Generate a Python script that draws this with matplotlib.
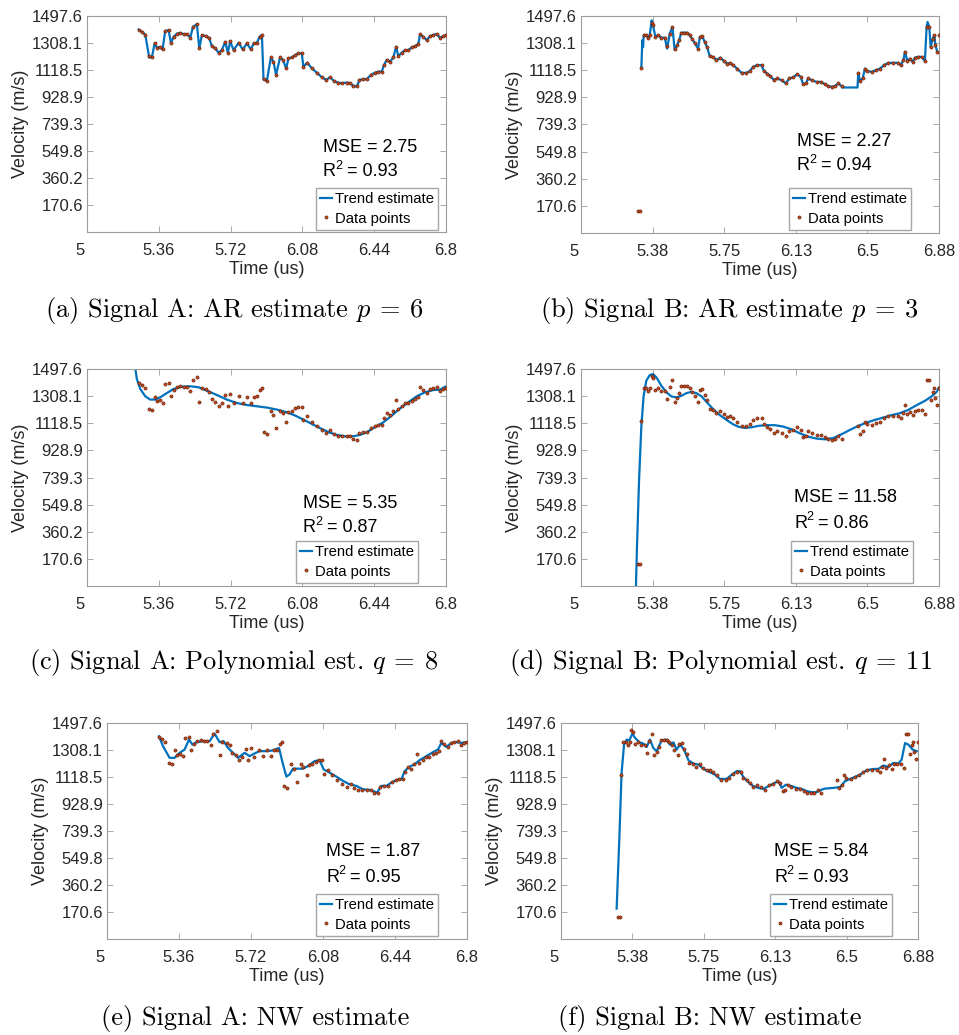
import matplotlib
matplotlib.use('Agg')
import matplotlib.pyplot as plt
from matplotlib.transforms import ScaledTranslation

plt.rcParams['font.family'] = ['Liberation Sans', 'DejaVu Sans']
plt.rcParams['mathtext.fontset'] = 'cm'

# ---- signal A: measured points (time in us, velocity in m/s)
t_a = [5.259, 5.276, 5.292, 5.312, 5.326, 5.339, 5.351, 5.364, 5.379, 5.392,
       5.409, 5.421, 5.434, 5.451, 5.468, 5.484, 5.501, 5.518, 5.531, 5.551,
       5.563, 5.576, 5.598, 5.613, 5.626, 5.643, 5.660, 5.676, 5.693, 5.706,
       5.718, 5.735, 5.760, 5.781, 5.802, 5.822, 5.835, 5.852, 5.865, 5.877,
       5.885, 5.902, 5.922, 5.935, 5.948, 5.968, 5.982, 5.999, 6.010, 6.027,
       6.044, 6.060, 6.077, 6.085, 6.105, 6.127, 6.152, 6.177, 6.199, 6.219,
       6.236, 6.256, 6.277, 6.302, 6.319, 6.336, 6.353, 6.366, 6.386, 6.403,
       6.423, 6.444, 6.461, 6.478, 6.489, 6.503, 6.520, 6.536, 6.550, 6.561,
       6.578, 6.595, 6.611, 6.628, 6.645, 6.661, 6.670, 6.687, 6.703, 6.720,
       6.737, 6.753, 6.770, 6.787, 6.800]
v_a = [1402, 1386, 1367, 1216, 1212, 1305, 1274, 1281, 1263, 1393,
       1397, 1309, 1351, 1374, 1379, 1370, 1370, 1346, 1421, 1440,
       1270, 1363, 1356, 1340, 1286, 1270, 1240, 1258, 1316, 1240,
       1321, 1258, 1309, 1263, 1305, 1263, 1305, 1309, 1351, 1365,
       1054, 1044, 1207, 1177, 1084, 1207, 1189, 1130, 1200, 1207,
       1223, 1235, 1235, 1142, 1170, 1130, 1100, 1068, 1049, 1068,
       1044, 1030, 1026, 1030, 1026, 1007, 1003, 1049, 1054, 1054,
       1084, 1100, 1107, 1107, 1154, 1189, 1177, 1207, 1281, 1216,
       1240, 1258, 1258, 1277, 1286, 1300, 1370, 1351, 1328, 1356,
       1365, 1370, 1346, 1356, 1365]

# ---- signal B: measured points
t_b = [5.298, 5.310, 5.317, 5.329, 5.343, 5.352, 5.361, 5.371, 5.378, 5.391,
       5.405, 5.422, 5.440, 5.452, 5.466, 5.480, 5.492, 5.505, 5.515, 5.527,
       5.540, 5.557, 5.571, 5.582, 5.597, 5.615, 5.624, 5.636, 5.650, 5.662,
       5.676, 5.694, 5.711, 5.732, 5.750, 5.767, 5.785, 5.799, 5.820, 5.843,
       5.869, 5.887, 5.904, 5.925, 5.948, 5.960, 5.978, 5.995, 6.013, 6.030,
       6.053, 6.076, 6.093, 6.114, 6.135, 6.153, 6.167, 6.181, 6.193, 6.211,
       6.237, 6.258, 6.281, 6.298, 6.316, 6.333, 6.351, 6.368, 6.456, 6.465,
       6.479, 6.491, 6.503, 6.526, 6.549, 6.570, 6.591, 6.614, 6.640, 6.666,
       6.679, 6.693, 6.701, 6.714, 6.728, 6.742, 6.754, 6.771, 6.789, 6.806,
       6.815, 6.829, 6.836, 6.847, 6.856, 6.861, 6.871, 6.878]
v_b = [136, 136, 1135, 1363, 1363, 1346, 1363, 1449, 1432, 1351,
       1363, 1346, 1346, 1286, 1374, 1421, 1270, 1293, 1328, 1381,
       1381, 1381, 1363, 1340, 1309, 1270, 1351, 1356, 1316, 1281,
       1216, 1212, 1189, 1207, 1184, 1165, 1170, 1154, 1130, 1100,
       1100, 1114, 1142, 1154, 1154, 1114, 1095, 1077, 1049, 1061,
       1049, 1026, 1061, 1068, 1091, 1073, 1021, 1026, 1061, 1049,
       1037, 1037, 1021, 1007, 1003, 1007, 1026, 1007, 1100, 1044,
       1061, 1130, 1114, 1107, 1119, 1130, 1154, 1170, 1170, 1170,
       1154, 1189, 1247, 1184, 1200, 1177, 1207, 1212, 1212, 1184,
       1421, 1421, 1281, 1340, 1363, 1293, 1247, 1363]

# ---- AR trend estimates
ar_t_a = t_a
ar_v_a = [1402, 1386, 1367, 1205, 1212, 1305, 1274, 1281, 1263, 1393,
          1397, 1309, 1351, 1374, 1379, 1370, 1370, 1346, 1421, 1440,
          1270, 1363, 1356, 1340, 1286, 1270, 1240, 1258, 1316, 1240,
          1321, 1258, 1309, 1263, 1305, 1263, 1305, 1309, 1351, 1365,
          1054, 1044, 1207, 1177, 1084, 1207, 1189, 1130, 1200, 1207,
          1223, 1235, 1235, 1142, 1170, 1130, 1100, 1068, 1049, 1068,
          1044, 1030, 1026, 1030, 1026, 1007, 1003, 1049, 1054, 1054,
          1084, 1100, 1107, 1107, 1154, 1189, 1177, 1207, 1281, 1216,
          1240, 1258, 1258, 1277, 1286, 1300, 1370, 1351, 1328, 1356,
          1365, 1370, 1346, 1356, 1365]
ar_t_b = [5.317, 5.322, 5.326, 5.329, 5.343, 5.352, 5.361, 5.371, 5.378, 5.391,
          5.405, 5.422, 5.440, 5.452, 5.466, 5.480, 5.492, 5.505, 5.515, 5.527,
          5.540, 5.557, 5.571, 5.582, 5.597, 5.615, 5.624, 5.636, 5.650, 5.662,
          5.676, 5.694, 5.711, 5.732, 5.750, 5.767, 5.785, 5.799, 5.820, 5.843,
          5.869, 5.887, 5.904, 5.925, 5.948, 5.960, 5.978, 5.995, 6.013, 6.030,
          6.053, 6.076, 6.093, 6.114, 6.135, 6.153, 6.167, 6.181, 6.193, 6.211,
          6.237, 6.258, 6.281, 6.298, 6.316, 6.333, 6.351, 6.368, 6.372, 6.452,
          6.456, 6.465, 6.479, 6.491, 6.503, 6.526, 6.549, 6.570, 6.591, 6.614,
          6.640, 6.666, 6.679, 6.693, 6.701, 6.714, 6.728, 6.742, 6.754, 6.771,
          6.789, 6.806, 6.815, 6.820, 6.829, 6.836, 6.847, 6.856, 6.861, 6.871,
          6.878]
ar_v_b = [1135, 1328, 1281, 1363, 1363, 1346, 1363, 1467, 1432, 1351,
          1363, 1346, 1346, 1270, 1374, 1421, 1260, 1293, 1328, 1381,
          1381, 1381, 1363, 1340, 1309, 1270, 1351, 1356, 1316, 1281,
          1216, 1212, 1189, 1207, 1184, 1165, 1170, 1154, 1130, 1100,
          1100, 1114, 1142, 1154, 1154, 1114, 1095, 1077, 1049, 1061,
          1049, 1026, 1061, 1068, 1091, 1073, 1021, 1026, 1061, 1049,
          1037, 1037, 1021, 1007, 1003, 1007, 1026, 1007, 998, 998,
          1100, 1044, 1061, 1130, 1114, 1107, 1119, 1130, 1154, 1170,
          1170, 1170, 1154, 1189, 1247, 1184, 1200, 1177, 1207, 1212,
          1212, 1184, 1421, 1456, 1421, 1281, 1340, 1363, 1293, 1247,
          1240]

# ---- polynomial trend estimates
poly_t_a = [5.236, 5.250, 5.267, 5.292, 5.317, 5.342, 5.367, 5.401, 5.434, 5.476,
            5.518, 5.559, 5.601, 5.651, 5.701, 5.751, 5.802, 5.852, 5.902, 5.952,
            6.002, 6.044, 6.085, 6.127, 6.169, 6.211, 6.252, 6.302, 6.336, 6.369,
            6.403, 6.444, 6.486, 6.528, 6.570, 6.611, 6.653, 6.695, 6.737, 6.770,
            6.800]
poly_v_a = [1560, 1428, 1358, 1307, 1284, 1284, 1300, 1330, 1358, 1374,
            1377, 1370, 1346, 1316, 1284, 1260, 1246, 1237, 1228, 1214,
            1195, 1172, 1144, 1114, 1084, 1056, 1037, 1025, 1028, 1037,
            1056, 1091, 1125, 1172, 1223, 1265, 1307, 1335, 1351, 1353,
            1377]
poly_t_b = [5.287, 5.294, 5.305, 5.317, 5.329, 5.343, 5.361, 5.378, 5.396, 5.422,
            5.449, 5.475, 5.501, 5.527, 5.554, 5.580, 5.606, 5.633, 5.659, 5.694,
            5.729, 5.764, 5.799, 5.825, 5.860, 5.895, 5.930, 5.974, 6.018, 6.062,
            6.106, 6.149, 6.193, 6.237, 6.281, 6.325, 6.368, 6.412, 6.456, 6.500,
            6.544, 6.587, 6.631, 6.675, 6.719, 6.763, 6.806, 6.841, 6.868, 6.880]
poly_v_b = [-100, 257, 725, 1100, 1310, 1416, 1455, 1462, 1439, 1381,
            1334, 1306, 1299, 1310, 1329, 1338, 1329, 1306, 1268, 1217,
            1175, 1142, 1111, 1095, 1086, 1090, 1100, 1105, 1105, 1095,
            1076, 1048, 1025, 1011, 1006, 1015, 1041, 1072, 1100, 1123,
            1142, 1158, 1175, 1189, 1212, 1245, 1275, 1306, 1338, 1369]

# ---- Nadaraya-Watson trend estimates
nw_t_a = [5.260, 5.280, 5.313, 5.338, 5.363, 5.388, 5.410, 5.427, 5.447, 5.480,
          5.513, 5.538, 5.563, 5.583, 5.605, 5.630, 5.655, 5.688, 5.713, 5.738,
          5.763, 5.797, 5.830, 5.860, 5.880, 5.897, 5.913, 5.930, 5.955, 5.980,
          6.005, 6.038, 6.063, 6.083, 6.113, 6.147, 6.180, 6.213, 6.247, 6.280,
          6.313, 6.338, 6.350, 6.372, 6.397, 6.422, 6.447, 6.472, 6.488, 6.513,
          6.538, 6.563, 6.597, 6.630, 6.655, 6.672, 6.697, 6.722, 6.747, 6.772,
          6.797]
nw_v_a = [1404, 1335, 1253, 1253, 1288, 1311, 1381, 1346, 1363, 1370,
          1370, 1423, 1363, 1370, 1323, 1288, 1253, 1288, 1265, 1284,
          1300, 1300, 1305, 1323, 1207, 1121, 1137, 1177, 1177, 1177,
          1195, 1230, 1237, 1172, 1149, 1121, 1091, 1067, 1056, 1032,
          1028, 1016, 1009, 1056, 1056, 1079, 1098, 1102, 1160, 1191,
          1207, 1237, 1265, 1293, 1312, 1358, 1330, 1358, 1363, 1358,
          1363]
nw_t_b = [5.293, 5.307, 5.319, 5.332, 5.346, 5.360, 5.376, 5.390, 5.413, 5.434,
          5.451, 5.469, 5.486, 5.504, 5.530, 5.553, 5.574, 5.592, 5.609, 5.627,
          5.648, 5.671, 5.697, 5.723, 5.750, 5.785, 5.811, 5.837, 5.872, 5.899,
          5.925, 5.943, 5.960, 5.987, 6.013, 6.039, 6.066, 6.092, 6.118, 6.145,
          6.162, 6.185, 6.215, 6.241, 6.267, 6.294, 6.320, 6.346, 6.373, 6.390,
          6.434, 6.469, 6.496, 6.522, 6.548, 6.575, 6.610, 6.645, 6.671, 6.697,
          6.724, 6.750, 6.777, 6.794, 6.812, 6.829, 6.852, 6.873]
nw_v_b = [194, 680, 1147, 1346, 1381, 1376, 1423, 1393, 1362, 1353,
          1329, 1381, 1322, 1299, 1376, 1381, 1346, 1362, 1311, 1346,
          1311, 1236, 1213, 1206, 1175, 1152, 1135, 1105, 1105, 1135,
          1159, 1159, 1119, 1082, 1054, 1042, 1035, 1054, 1072, 1089,
          1042, 1065, 1054, 1042, 1035, 1019, 1012, 1012, 1030, 1037,
          1042, 1047, 1089, 1105, 1119, 1135, 1166, 1175, 1175, 1199,
          1189, 1217, 1213, 1241, 1357, 1346, 1311, 1299]

yticks = [170.6, 360.2, 549.8, 739.3, 928.9, 1118.5, 1308.1, 1497.6]
xticks_a = [5, 5.36, 5.72, 6.08, 6.44, 6.8]
xlabels_a = ['5', '5.36', '5.72', '6.08', '6.44', '6.8']
xticks_b = [5, 5.376, 5.752, 6.128, 6.504, 6.88]
xlabels_b = ['5', '5.38', '5.75', '6.13', '6.5', '6.88']

W, H = 959, 1035
fig = plt.figure(figsize=(W / 100, H / 100), dpi=100)

BLUE = '#0072BD'
DOT = '#C04A1C'
AXC = '#9c9c9c'
TXT = '#262626'

# panel layout in pixels: axes box (l, r, top, bottom), text anchor, legend anchor, caption centre
panels = [
    dict(box=(87, 446, 16, 232), sig='A', tt=ar_t_a, tv=ar_v_a, mse='2.75', r2='0.93',
         txt=(323, 147), leg=(316, 188), cap=(234, 310),
         caption=r'(a) Signal A: AR estimate $p\:=\:6$'),
    dict(box=(581, 939, 16, 233), sig='B', tt=ar_t_b, tv=ar_v_b, mse='2.27', r2='0.94',
         txt=(797, 141), leg=(789, 188), cap=(729, 310),
         caption=r'(b) Signal B: AR estimate $p\:=\:3$'),
    dict(box=(87, 446, 369, 586), sig='A', tt=poly_t_a, tv=poly_v_a, mse='5.35', r2='0.87',
         txt=(303, 503), leg=(296, 541), cap=(234, 662),
         caption=r'(c) Signal A: Polynomial est. $q\:=\:8$'),
    dict(box=(581, 939, 369, 586), sig='B', tt=poly_t_b, tv=poly_v_b, mse='11.58', r2='0.86',
         txt=(794, 498), leg=(791, 541), cap=(721, 662),
         caption=r'(d) Signal B: Polynomial est. $q\:=\:11$'),
    dict(box=(107, 467, 723, 939), sig='A', tt=nw_t_a, tv=nw_v_a, mse='1.87', r2='0.95',
         txt=(326, 852), leg=(316, 894), cap=(255, 1018),
         caption=r'(e) Signal A: NW estimate'),
    dict(box=(561, 918, 723, 939), sig='B', tt=nw_t_b, tv=nw_v_b, mse='5.84', r2='0.93',
         txt=(774, 852), leg=(770, 894), cap=(710, 1018),
         caption=r'(f) Signal B: NW estimate'),
]


def ftext(x, y, s, **kw):
    # place text at figure pixel position (origin top-left)
    return fig.text(x / W, 1 - y / H, s, **kw)


for p in panels:
    l, r, top, bot = p['box']
    ax = fig.add_axes([l / W, 1 - bot / H, (r - l) / W, (bot - top) / H])
    if p['sig'] == 'A':
        td, vd, xt, xl, xmax = t_a, v_a, xticks_a, xlabels_a, 6.8
    else:
        td, vd, xt, xl, xmax = t_b, v_b, xticks_b, xlabels_b, 6.88

    ax.plot(p['tt'], p['tv'], color=BLUE, lw=1.6, label='Trend estimate', zorder=2)
    ax.plot(td, vd, ls='none', marker='o', ms=2.3, mfc=DOT, mec='#5a1706', mew=0.4,
            label='Data points', zorder=3)

    ax.set_xlim(5, xmax)
    ax.set_ylim(-19, 1497.6)
    ax.set_xticks(xt)
    ax.set_xticklabels(xl)
    ax.set_yticks(yticks)
    ax.set_yticklabels(['%.1f' % v for v in yticks])
    ax.tick_params(direction='in', length=4, width=0.6, color=AXC, labelcolor=TXT,
                   labelsize=12, top=True, right=True)
    ax.tick_params(axis='x', pad=8)
    ax.tick_params(axis='y', pad=3)
    for s in ax.spines.values():
        s.set_color(AXC)
        s.set_linewidth(0.8)
    ax.set_xlabel('Time (us)', fontsize=13, color=TXT, labelpad=2)
    ax.set_ylabel('Velocity (m/s)', fontsize=13, color=TXT, labelpad=2)

    # the "5" label sits a bit left of the axis corner
    first = ax.get_xticklabels()[0]
    first.set_transform(first.get_transform() + ScaledTranslation(-7 / 100, 0, fig.dpi_scale_trans))

    tx, ty = p['txt']
    ftext(tx, ty, 'MSE = ' + p['mse'], fontsize=13, color='black', va='center')
    ftext(tx, ty + 25, 'R', fontsize=13, color='black', va='center')
    ftext(tx + 12.5, ty + 19, '2', fontsize=9, color='black', va='center')
    ftext(tx + 24, ty + 25, '= ' + p['r2'], fontsize=13, color='black', va='center')

    lx, ly = p['leg']
    ax.legend(loc='upper left', bbox_to_anchor=(lx / W, 1 - ly / H), bbox_transform=fig.transFigure,
              fontsize=10.7, frameon=True, fancybox=False, framealpha=1, edgecolor='#a6a6a6',
              borderaxespad=0, borderpad=0.3, handlelength=0.8, handletextpad=0.15,
              labelspacing=0.35, markerscale=1.0)

    cx, cy = p['cap']
    ftext(cx, cy, p['caption'], family='cmr10', fontsize=19,
          ha='center', va='center', color='black')

fig.savefig('out.png', dpi=100)
